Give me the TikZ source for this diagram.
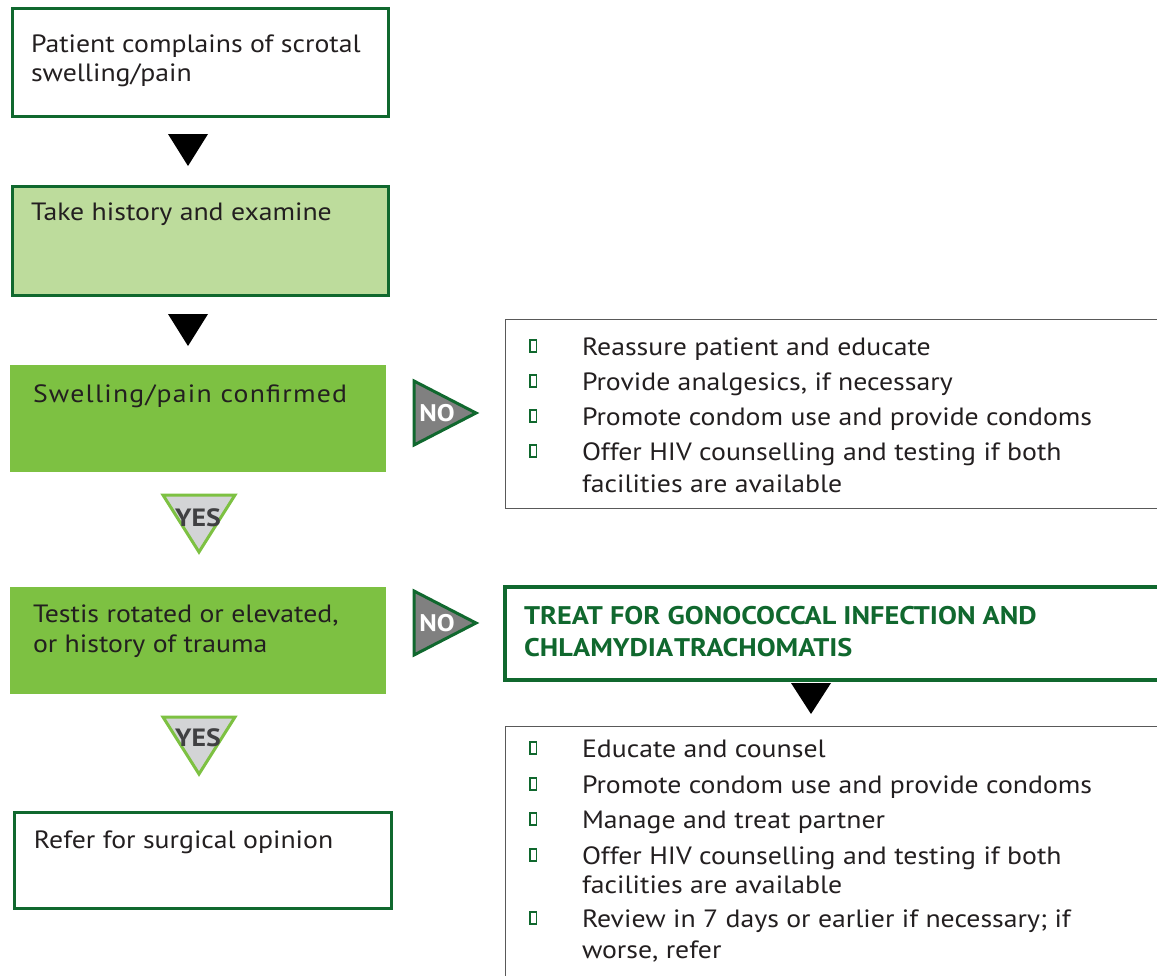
\documentclass[tikz,border=0pt]{standalone}
\usepackage{fontspec}
\setmainfont{PT Sans}[FakeStretch=1.11]
\definecolor{dkgreen}{RGB}{16,104,46}
\definecolor{ltgreen}{RGB}{189,220,156}
\definecolor{mdgreen}{RGB}{125,193,66}
\definecolor{txtgray}{RGB}{35,31,32}
\definecolor{notrifill}{RGB}{128,128,128}
\definecolor{yesfill}{RGB}{211,212,214}
\definecolor{yestxt}{RGB}{64,64,66}
\begin{document}
\begin{tikzpicture}[x=1pt,y=-1pt,
  every node/.style={inner sep=0pt,outer sep=0pt},
  flowbox/.style={rectangle,anchor=north west,draw=dkgreen,line width=3pt},
  greenbox/.style={rectangle,anchor=north west,fill=mdgreen},
  txt/.style={anchor=base west,text=txtgray,font=\fontsize{25}{30}\selectfont},
  treattxt/.style={anchor=base west,text=dkgreen,font=\fontsize{25.5}{30}\selectfont\bfseries},
  bul/.style={draw=dkgreen,line width=1.6pt,fill=white},
  arrowtri/.style={fill=black},
  notri/.style={fill=notrifill,draw=dkgreen,line width=3pt,line join=miter},
  yestri/.style={fill=yesfill,draw=mdgreen,line width=3pt,line join=miter},
  notxt/.style={text=white,font=\fontsize{24}{26}\selectfont\bfseries},
  yestxt/.style={text=yestxt,font=\fontsize{25}{27}\selectfont\bfseries},
  listbox/.style={draw=black!65,line width=1pt}
]
\useasboundingbox (0,0) rectangle (1157,975);
\fill[white] (0,0) rectangle (1157,975);

% left column
\node[flowbox,fill=white,minimum width=376pt,minimum height=108pt] (b1) at (12,8) {};
\node[txt] (t1a) at (31,52) {Patient complains of scrotal};
\node[txt] (t1b) at (31,81) {swelling/pain};

\fill[arrowtri] (168,134) -- (208,134) -- (188,166) -- cycle;

\node[flowbox,fill=ltgreen,minimum width=376pt,minimum height=109pt] (b2) at (12,186) {};
\node[txt] (t2) at (31,220) {Take history and examine};

\fill[arrowtri] (168,314) -- (208,314) -- (188,346) -- cycle;

\node[greenbox,minimum width=376pt,minimum height=107pt] (b3) at (10,365) {};
\node[txt] (t3) at (33,402) {\addfontfeature{LetterSpace=5}Swelling/pain confirmed};

\draw[notri] (414,381) -- (476,413) -- (414,445) -- cycle;
\node[notxt] (no1) at (437,413) {NO};

\draw[yestri] (163,495) -- (235,495) -- (199,552) -- cycle;
\node[yestxt] (yes1) at (198,518) {YES};

\node[greenbox,minimum width=376pt,minimum height=107pt] (b4) at (10,587) {};
\node[txt] (t4a) at (33,622) {Testis rotated or elevated,};
\node[txt] (t4b) at (33,652) {or history of trauma};

\draw[notri] (414,591) -- (476,623) -- (414,655) -- cycle;
\node[notxt] (no2) at (437,623) {NO};

\draw[yestri] (163,717) -- (235,717) -- (199,774) -- cycle;
\node[yestxt] (yes2) at (198,738) {YES};

\node[flowbox,fill=white,minimum width=377pt,minimum height=96pt] (b5) at (14,812) {};
\node[txt] (t5) at (34,848) {Refer for surgical opinion};

% right column, first list
\draw[listbox] (505.5,319) rectangle (1165,508);
\foreach \y/\s [count=\i] in {355/Reassure patient and educate,
  390/{Provide analgesics, if necessary},
  425/Promote condom use and provide condoms,
  460/Offer HIV counselling and testing if both}{
  \draw[bul] (530,\y-15) rectangle (536.5,\y-3);
  \node[txt] (la\i) at (582,\y) {\s};
}
\node[txt] (la5) at (582,492) {facilities are available};

% treat box
\node[flowbox,line width=4pt,fill=white,minimum width=660pt,minimum height=93pt] (tr) at (505,587) {};
\node[treattxt] (tra) at (524,624) {TREAT FOR GONOCOCCAL INFECTION AND};
\node[treattxt] (trb) at (524,656) {CHLAMYDIA\hspace{1pt}TRACHOMATIS};

\fill[arrowtri] (791,683) -- (831,683) -- (811,714) -- cycle;

% second list
\draw[listbox] (505.5,1000) -- (505.5,726) -- (1165,726);
\foreach \y/\s [count=\i] in {757/Educate and counsel,
  793/Promote condom use and provide condoms,
  828/Manage and treat partner,
  864/Offer HIV counselling and testing if both,
  927/{Review in 7 days or earlier if necessary; if}}{
  \draw[bul] (530,\y-15) rectangle (536.5,\y-3);
  \node[txt] (lb\i) at (582,\y) {\s};
}
\node[txt] (lb6) at (582,893) {facilities are available};
\node[txt] (lb7) at (582,958) {worse, refer};
\end{tikzpicture}
\end{document}
